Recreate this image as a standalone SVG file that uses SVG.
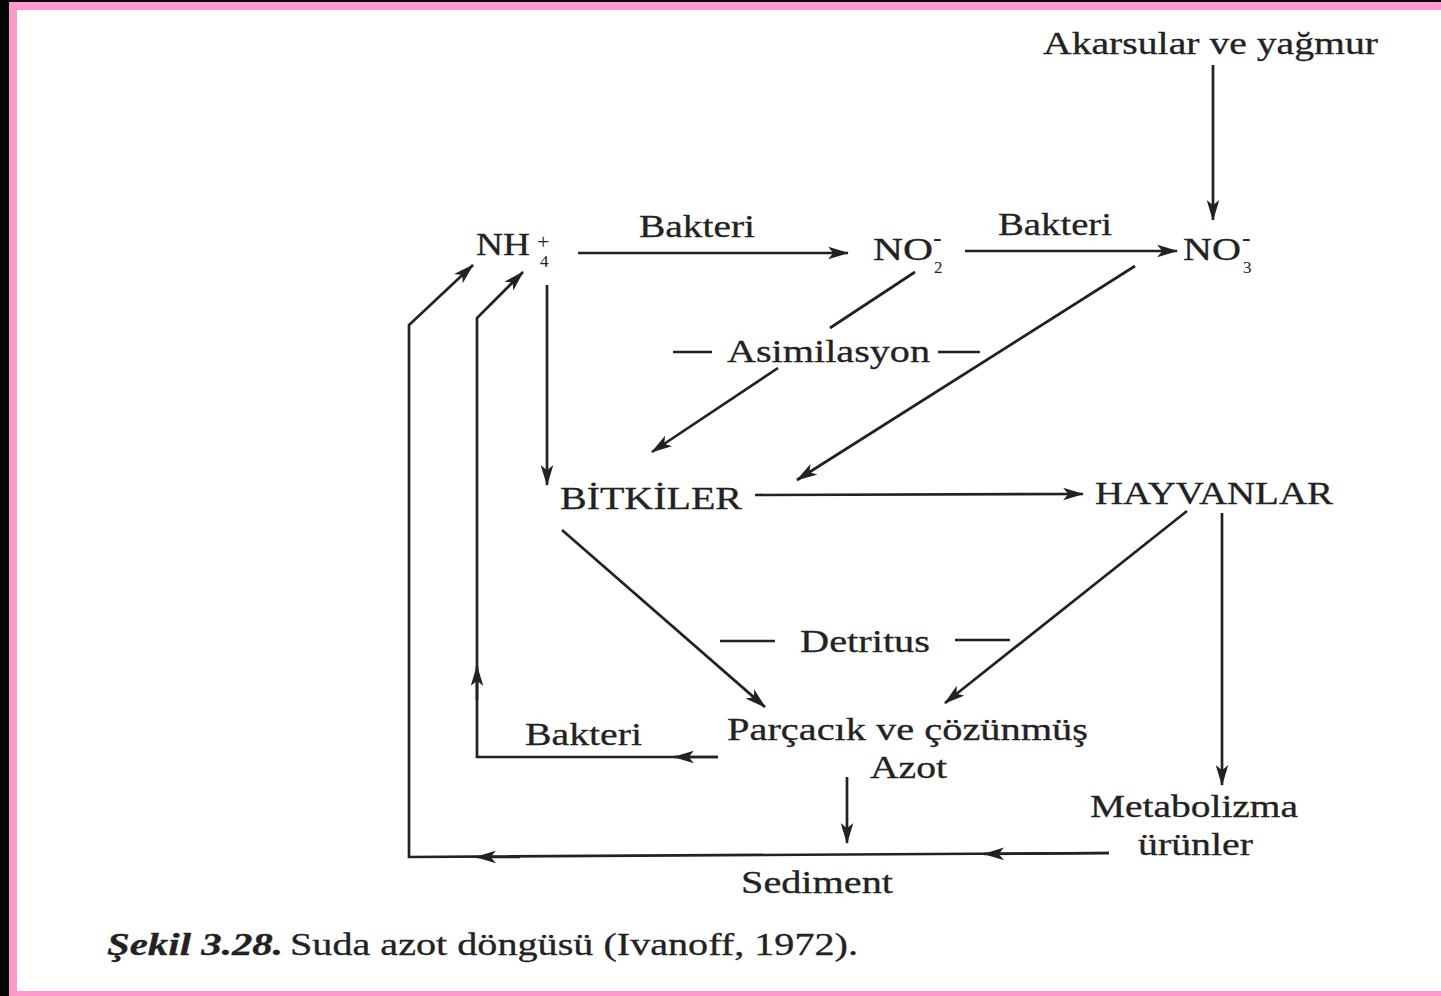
<svg xmlns="http://www.w3.org/2000/svg" width="1441" height="996" viewBox="0 0 1441 996">
<style>
.t{font-family:"Liberation Serif","Times New Roman",serif;font-size:31px;fill:#222222;stroke:#222222;stroke-width:0.3}
.s{font-family:"Liberation Serif","Times New Roman",serif;fill:#222222}
.ln{fill:none;stroke:#222222;stroke-width:2.7;stroke-linejoin:miter}
.a{fill:none;stroke:#222222;stroke-width:2.7;marker-end:url(#ah)}
</style>
<defs>
<marker id="ah" viewBox="0 0 20 12" refX="19" refY="6" markerWidth="21" markerHeight="13" markerUnits="userSpaceOnUse" orient="auto">
<path d="M0,0 L20,6 L0,12 L5,6 z" fill="#222222"/>
</marker>
</defs>
<rect x="0" y="0" width="1441" height="996" fill="#ffffff"/>
<rect x="0" y="0" width="9" height="996" fill="#050505"/>
<rect x="0" y="0" width="1441" height="2" fill="#050505"/>
<rect x="9" y="2" width="1432" height="8" fill="#ff99cc"/>
<rect x="9" y="2" width="8" height="994" fill="#ff99cc"/>
<rect x="9" y="991" width="1432" height="5" fill="#ff99cc"/>

<g id="akarsular"><text class="t" x="1043" y="54" textLength="335" lengthAdjust="spacingAndGlyphs">Akarsular ve yağmur</text></g>
<g id="nh4"><text class="t" x="476" y="255" textLength="54" lengthAdjust="spacingAndGlyphs">NH</text><text class="s" x="537" y="249" style="font-size:22px">+</text><text class="s" x="540" y="267" style="font-size:17px">4</text></g>
<g id="no2"><text class="t" x="873" y="260" textLength="60" lengthAdjust="spacingAndGlyphs">NO</text><text class="s" x="933" y="246" style="font-size:26px">-</text><text class="s" x="934" y="273" style="font-size:17px">2</text></g>
<g id="no3"><text class="t" x="1183" y="260" textLength="58" lengthAdjust="spacingAndGlyphs">NO</text><text class="s" x="1242" y="246" style="font-size:26px">-</text><text class="s" x="1243" y="273" style="font-size:17px">3</text></g>
<g id="bitkiler"><text class="t" x="560" y="509" textLength="182" lengthAdjust="spacingAndGlyphs">BİTKİLER</text></g>
<g id="hayvanlar"><text class="t" x="1095" y="504" textLength="238" lengthAdjust="spacingAndGlyphs">HAYVANLAR</text></g>
<g id="parcacik"><text class="t" x="727" y="740" textLength="361" lengthAdjust="spacingAndGlyphs">Parçacık ve çözünmüş</text><text class="t" x="870" y="778" textLength="77" lengthAdjust="spacingAndGlyphs">Azot</text></g>
<g id="metabolizma"><text class="t" x="1090" y="817" textLength="208" lengthAdjust="spacingAndGlyphs">Metabolizma</text><text class="t" x="1138" y="855" textLength="115" lengthAdjust="spacingAndGlyphs">ürünler</text></g>
<g id="sediment"><text class="t" x="741" y="893" textLength="152" lengthAdjust="spacingAndGlyphs">Sediment</text></g>

<g id="connectors">
<path class="a" d="M1213,65 L1213,220"/>
<path class="a" d="M578,253 L848,253"/>
<text class="t" x="639" y="237" textLength="116" lengthAdjust="spacingAndGlyphs">Bakteri</text>
<path class="a" d="M965,251 L1177,251"/>
<text class="t" x="998" y="235" textLength="114" lengthAdjust="spacingAndGlyphs">Bakteri</text>
<path class="ln" d="M915,272 L830,328"/>
<path class="a" d="M778,368 L652,452"/>
<path class="ln" d="M673,352 L712,352 M938,352 L980,352"/>
<text class="t" x="727" y="362" textLength="203" lengthAdjust="spacingAndGlyphs">Asimilasyon</text>
<path class="a" d="M1135,266 L797,480"/>
<path class="a" d="M547,285 L547,485"/>
<path class="a" d="M755,495 L1083,494"/>
<path class="a" d="M562,530 L765,707"/>
<path class="a" d="M1187,511 L945,703"/>
<path class="ln" d="M720,641 L775,641 M955,640 L1010,640"/>
<text class="t" x="800" y="652" textLength="130" lengthAdjust="spacingAndGlyphs">Detritus</text>
<path class="a" d="M1222,513 L1222,785"/>
<path class="a" d="M847,777 L847,843"/>
<path class="a" d="M718,757 L477,757 L477,318 L523,272"/>
<path class="a" d="M718,757 L674,757"/>
<path class="a" d="M477,700 L477,666"/>
<text class="t" x="525" y="745" textLength="117" lengthAdjust="spacingAndGlyphs">Bakteri</text>
<path class="a" d="M1109,853 L409,857 L409,325 L473,265"/>
<path class="a" d="M1109,853 L984,854"/>
<path class="a" d="M520,857 L476,857"/>
</g>

<g id="caption">
<text class="t" x="107" y="955" font-size="28" font-weight="bold" font-style="italic" textLength="176" lengthAdjust="spacingAndGlyphs">Şekil 3.28.</text>
<text class="t" x="290" y="955" font-size="28" textLength="568" lengthAdjust="spacingAndGlyphs">Suda azot döngüsü (Ivanoff, 1972).</text>
</g>
</svg>
